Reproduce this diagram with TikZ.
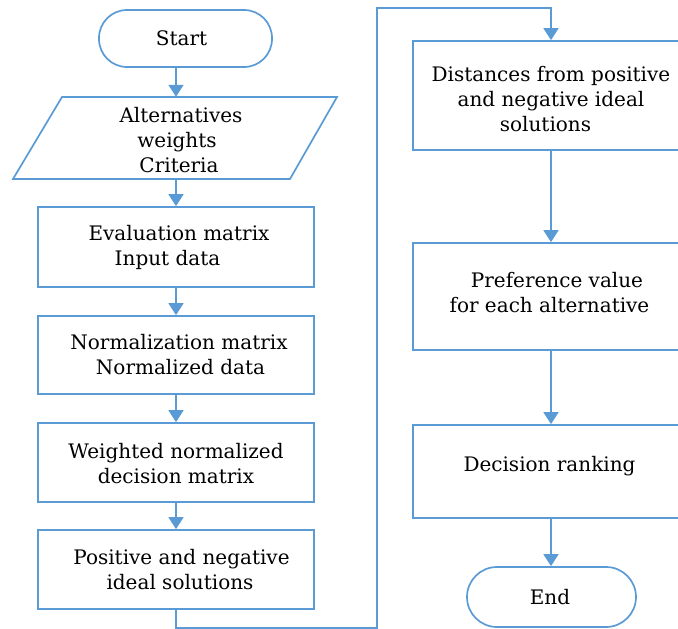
\documentclass[tikz,border=0pt]{standalone}
\usepackage{fontspec}
\setmainfont{DejaVu Serif}
\usetikzlibrary{arrows.meta,calc}
\definecolor{fblue}{HTML}{5B9BD5}
\newcommand{\hs}[1]{\hspace*{#1pt}}
\newcommand{\up}[1]{\rule[-#1pt]{0pt}{#1pt}}
\newcommand{\dn}[1]{\rule{0pt}{#1pt}}
\begin{document}
\begin{tikzpicture}[x=1pt,y=-1pt,
  line/.style={draw=fblue, line width=1.7pt},
  arr/.style={line, -{Triangle[width=15pt,length=12pt]}},
  txt/.style={font=\fontsize{20}{25}\selectfont, text=black, align=center},
  box/.style={line, txt, rectangle, inner sep=0pt, minimum width=276pt},
  term/.style={line, txt, rectangle, inner sep=0pt, rounded corners=28pt}]
\useasboundingbox (0,0) rectangle (678,629);
\clip (0,0) rectangle (678,629);
% left column
\node[term, minimum width=173pt, minimum height=57pt] (start) at (185.5,38.5) {Start\hs{8}};
\node[txt, minimum width=228pt, minimum height=82pt, inner sep=0pt] (para) at (175.5,138) {\dn{19}\hs{11}Alternatives\\\hs{3}weights\\\hs{7}Criteria};
\draw[line] (62,97) -- (337,97) -- (290,179) -- (13,179) -- cycle;
\node[box, minimum height=80pt] (eval) at (176,247) {\hs{6}Evaluation matrix\\Input data\hs{17}};
\node[box, minimum height=78pt] (norm) at (176,355) {\hs{6}Normalization matrix\\\hs{9}Normalized data};
\node[box, minimum height=79pt] (wnm) at (176,462.5) {\dn{17}Weighted normalized\\decision matrix};
\node[box, minimum height=79pt] (pos) at (176,569.5) {\hs{11}Positive and negative\\\hs{8}ideal solutions};
% right column
\node[box, minimum height=109pt] (dist) at (551,95.5) {\dn{23}Distances from positive\\and negative ideal\hs{16}\\solutions\hs{11}};
\node[box, minimum height=107pt] (pref) at (551,296.5) {\hs{12}Preference value\\for each alternative\hs{3}\up{9}};
\node[box, minimum height=93pt] (dec) at (551,471.5) {Decision ranking\hs{3}\up{15}};
\node[term, minimum width=169pt, minimum height=60pt, rounded corners=30pt] (end) at (551.5,597) {End\hs{3}};
% connectors
\draw[arr] (start.south -| eval.north) -- (para.north -| eval.north);
\draw[arr] (para.south -| eval.north) -- (eval.north);
\draw[arr] (eval) -- (norm);
\draw[arr] (norm) -- (wnm);
\draw[arr] (wnm) -- (pos);
\coordinate (loopA) at (377,628);
\coordinate (loopB) at (377,8);
\draw[arr] (pos.south) |- (loopA) -- (loopB) -| (dist.north);
\draw[arr] (dist) -- (pref);
\draw[arr] (pref) -- (dec);
\draw[arr] (dec.south) -- (dec.south |- end.north);
\end{tikzpicture}
\end{document}
